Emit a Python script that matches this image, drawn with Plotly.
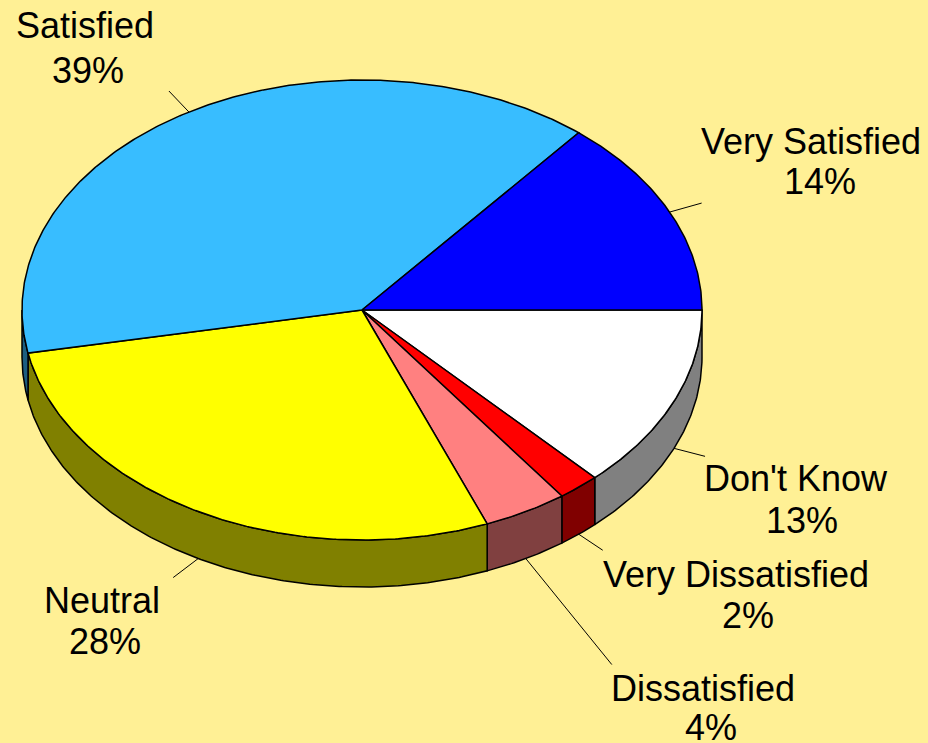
import numpy as np
import plotly.graph_objects as go

# Survey responses, listed clockwise starting from the 3 o'clock position
labels = ["Don't Know", "Very Dissatisfied", "Dissatisfied", "Neutral", "Satisfied", "Very Satisfied"]
shares = [13, 2, 4, 28, 39, 14]

top_colors = ["#FFFFFF", "#FF0000", "#FF8080", "#FFFF00", "#38BDFF", "#0000FF"]
side_colors = ["#808080", "#800000", "#804040", "#808000", "#1C5E80", "#000080"]
BG = "#FFF095"

# Tilted-disc geometry (pixel space of the canvas)
W, H = 928, 743
CX, CY, RX, RY, DEPTH = 362, 310, 340, 230, 47

# Label placement: name centre x / baseline, percent centre x / baseline, leader end offset
label_layout = {
    "Satisfied":         dict(nx=85,  nb=37,  px=88,  pb=82,  lead=(-20, -21)),
    "Very Satisfied":    dict(nx=811, nb=153, px=820, pb=193, lead=(32, -9)),
    "Don't Know":        dict(nx=796, nb=490, px=802, pb=532, lead=(31, 8)),
    "Very Dissatisfied": dict(nx=736, nb=586, px=748, pb=627, lead=(24, 16)),
    "Dissatisfied":      dict(nx=703, nb=700, px=711, pb=739, lead=(86, 106)),
    "Neutral":           dict(nx=102, nb=612, px=105, pb=653, lead=(-25, 19)),
}
FONT_SIZE = 36
FONT = "Liberation Sans, Arial, sans-serif"


def rim(a_deg, drop=0.0):
    a = np.radians(a_deg)
    return CX + RX * np.cos(a), CY + RY * np.sin(a) + drop


def arc(a0, a1, drop=0.0, n=None):
    if n is None:
        n = max(2, int(abs(a1 - a0) * 2) + 2)
    t = np.linspace(a0, a1, n)
    return rim(t, drop)


total = float(sum(shares))
bounds = np.concatenate([[0.0], np.cumsum(shares) / total * 360.0])

fig = go.Figure()

# Side walls: only the front half (0..180 deg, screen-down) is visible
for i, lab in enumerate(labels):
    a0, a1 = bounds[i], bounds[i + 1]
    s0, s1 = max(a0, 0.0), min(a1, 180.0)
    if s1 <= s0:
        continue
    tx, ty = arc(s0, s1)
    bx, by = arc(s1, s0, DEPTH)
    xs = np.concatenate([tx, bx, tx[:1]])
    ys = np.concatenate([ty, by, ty[:1]])
    fig.add_trace(go.Scatter(x=xs, y=ys, mode="lines", fill="toself",
                             fillcolor=side_colors[i],
                             line=dict(color="black", width=1.5),
                             hoverinfo="skip", showlegend=False))

# Top faces
for i, lab in enumerate(labels):
    a0, a1 = bounds[i], bounds[i + 1]
    ax_, ay_ = arc(a0, a1)
    xs = np.concatenate([[CX], ax_, [CX]])
    ys = np.concatenate([[CY], ay_, [CY]])
    fig.add_trace(go.Scatter(x=xs, y=ys, mode="lines", fill="toself",
                             fillcolor=top_colors[i],
                             line=dict(color="black", width=1.5),
                             hoverinfo="skip", showlegend=False, name=lab))

# Leader lines and labels
annotations = []
for i, lab in enumerate(labels):
    a0, a1 = bounds[i], bounds[i + 1]
    mid = (a0 + a1) / 2.0
    front = 0.0 < (mid % 360.0) < 180.0
    sx, sy = rim(mid, DEPTH if front else 0.0)
    cfg = label_layout[lab]
    ex, ey = sx + cfg["lead"][0], sy + cfg["lead"][1]
    fig.add_trace(go.Scatter(x=[sx, ex], y=[sy, ey], mode="lines",
                             line=dict(color="black", width=1),
                             hoverinfo="skip", showlegend=False))
    pct = f"{shares[i] / total * 100:.0f}%"
    for txt, x, base in ((lab, cfg["nx"], cfg["nb"]), (pct, cfg["px"], cfg["pb"])):
        annotations.append(dict(x=x, y=base - 12, xref="x", yref="y", text=txt,
                                showarrow=False, xanchor="center", yanchor="middle",
                                font=dict(family=FONT, size=FONT_SIZE, color="black")))

fig.update_layout(
    width=W, height=H,
    margin=dict(l=0, r=0, t=0, b=0),
    paper_bgcolor=BG, plot_bgcolor=BG,
    xaxis=dict(range=[0, W], visible=False, fixedrange=True),
    yaxis=dict(range=[H, 0], visible=False, fixedrange=True),
    annotations=annotations,
    showlegend=False,
)

fig.write_html("out.html", config={"displayModeBar": False})
